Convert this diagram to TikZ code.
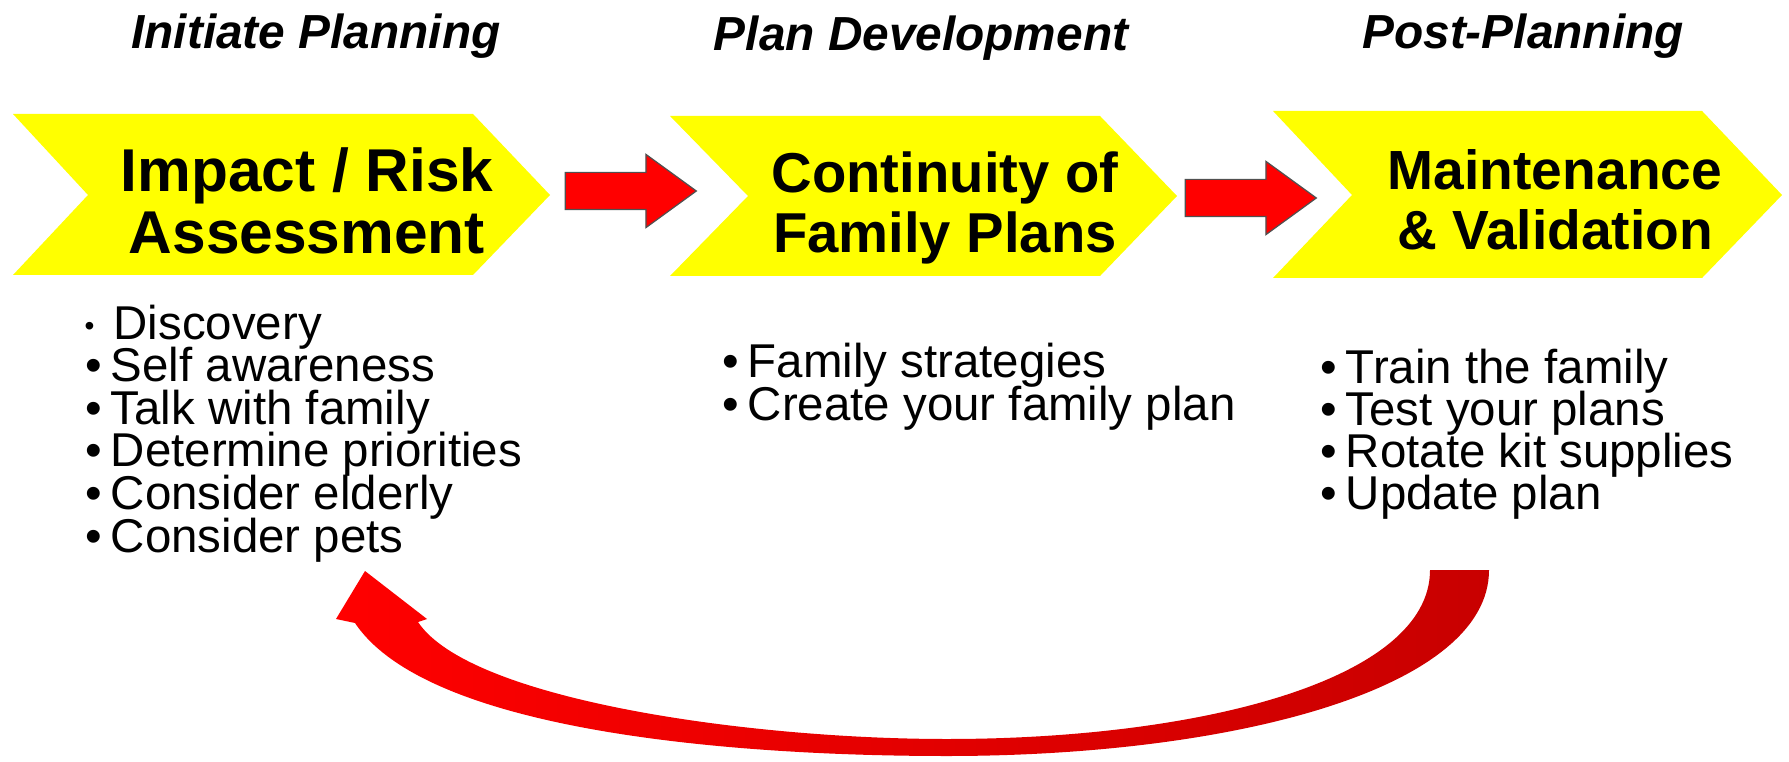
\documentclass[tikz,border=0pt]{standalone}
\usepackage{fontspec}
\setmainfont{Liberation Sans}
\usetikzlibrary{shapes.arrows}

\definecolor{chevron}{RGB}{255,255,0}
\definecolor{arrowgray}{RGB}{80,80,80}
\definecolor{loopred}{RGB}{200,0,0}
\newcommand{\itembullet}{•\hspace{0.85mm}}

\begin{document}
\begin{tikzpicture}[
    x=0.1mm, y=-0.1mm,
    stagetitle/.style={
		font=\bfseries\itshape\fontsize{13.6}{14}\selectfont,
		anchor=base,
		inner sep=0
	},
    phase/.style={
		font=\bfseries\fontsize{17.2}{17}\selectfont,
		anchor=base,
		inner sep=0
	},
    item/.style={
		font=\fontsize{13.5}{13}\selectfont,
		anchor=base west,
		inner sep=0
	},
    stage/.style={fill=chevron},
    bigarrow/.style={
		single arrow,
		draw=arrowgray,
		line width=0.35pt,
		fill=red,
		text height=1.8mm,
		text depth=1.8mm,
		minimum height=13.1mm,
		single arrow head extend=1.8mm,
		single arrow tip angle=72,
		inner sep=0
	}
  ]
  \useasboundingbox (0,0) rectangle (1789,762);

  % headings above the stages
  \node [stagetitle] (initiate) at (316,49) {Initiate Planning};
  \node [stagetitle] (plandev) at (921,51) {Plan Development};
  \node [stagetitle] (postplan) at (1523,49) {Post-Planning};

  % the three yellow stages
  \fill [stage] (13,114) -- (473,114) -- (550,195) -- (473,275) -- (13,275) -- (88,195) -- cycle;
  \fill [stage] (670,116) -- (1100,116) -- (1177,196) -- (1100,276) -- (670,276) -- (748,196) -- cycle;
  \fill [stage] (1273,111) -- (1702,111) -- (1782,195) -- (1702,278) -- (1273,278) -- (1352,195) -- cycle;

  \node [phase] (impact) at (307,192) {Impact / Risk};
  \node [phase] (assess) at (307,254) {Assessment};
  \node [phase, font=\bfseries\fontsize{16}{16}\selectfont] (contin) at (945,193) {Continuity of};
  \node [phase, font=\bfseries\fontsize{16}{16}\selectfont] (family) at (945,253) {Family Plans};
  \node [phase, font=\bfseries\fontsize{15.7}{15.7}\selectfont] (maint) at (1555,190) {Maintenance};
  \node [phase, font=\bfseries\fontsize{15.7}{15.7}\selectfont] (valid) at (1555,250) {\& Validation};

  % red arrows between the stages
  \node [bigarrow] (push1) at (618,191) {};
  \node [bigarrow] (push2) at (1238,198) {};

  % bullet lists
  \node [item] (disc) at (84,339) {\raisebox{0.4mm}{\fontsize{8}{8}\selectfont •}\hspace{1.9mm}Discovery};
  \foreach \txt [count=\i] in {Self awareness, Talk with family, Determine priorities, Consider elderly, Consider pets}
    \node [item] (left\i) at (85,339+42.6*\i) {\itembullet\txt};

  \foreach \txt [count=\i from 0] in {Family strategies, Create your family plan}
    \node [item] (mid\i) at (722,378+42*\i) {\itembullet\txt};

  \foreach \txt [count=\i from 0] in {Train the family, Test your plans, Rotate kit supplies, Update plan}
    \node [item] (right\i) at (1320,383+42*\i) {\itembullet\txt};

  % return arrow back to the start
  \coordinate (loopstart) at (1459,570);
  \coordinate (looptip) at (365,571);
  \shade [left color=red, right color=loopred]
    (1430,570) -- (1489,570)
    .. controls (1489,690) and (1230,756) .. (947,756)
    .. controls (750,756) and (430,735) .. (355,623)
    -- (336,619) -- (looptip) -- (427,619) -- (418,622)
    .. controls (470,700) and (750,739) .. (947,739)
    .. controls (1200,739) and (1430,680) .. (1430,570) -- cycle;

\end{tikzpicture}
\end{document}
